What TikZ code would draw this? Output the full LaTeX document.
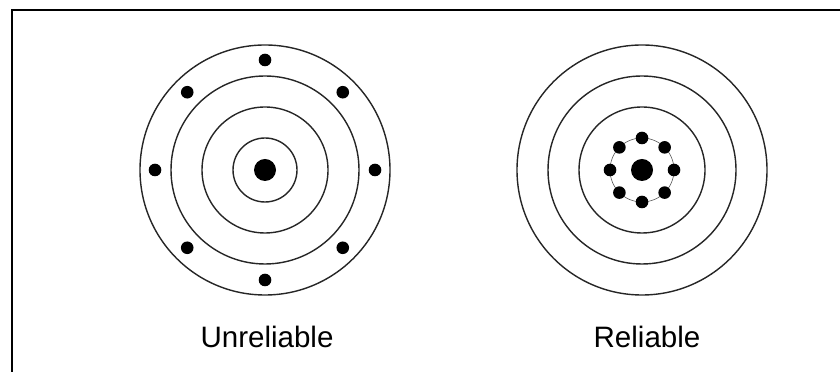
\documentclass[tikz,border=0pt]{standalone}
\usepackage{fontspec}
\setmainfont{Liberation Sans}
\usetikzlibrary{positioning,calc}

\tikzset{
  ring/.style={draw=black!85, line width=1pt},
  shot/.style={fill=black},
  caption/.style={font=\fontsize{21}{25}\selectfont, anchor=base}
}

\begin{document}
\begin{tikzpicture}[x=0.025cm, y=0.025cm]
  \useasboundingbox (0,0) rectangle (840,372);
  % frame
  \draw[line width=1.4pt] (12,0) -- (12,362) -- (840,362);

  \coordinate (left) at (265,202);
  \coordinate (right) at (642,202);

  % unreliable target
  \foreach \r in {125,94,63,32}
    \draw[ring] (left) circle[radius=\r];
  \fill[shot] (left) circle[radius=11];
  \foreach \a in {0,45,...,315}
    \fill[shot] ($(left)+(\a:110)$) circle[radius=6.3];

  % reliable target
  \foreach \r in {125,94,63}
    \draw[ring] (right) circle[radius=\r];
  \draw[black!70, line width=0.4pt] (right) circle[radius=32];
  \fill[shot] (right) circle[radius=11];
  \foreach \a in {0,45,...,315}
    \fill[shot] ($(right)+(\a:32)$) circle[radius=6.3];

  \node[caption] (unrel) at (267,24) {Unreliable};
  \node[caption] (rel) at (647,24) {Reliable};
\end{tikzpicture}
\end{document}
